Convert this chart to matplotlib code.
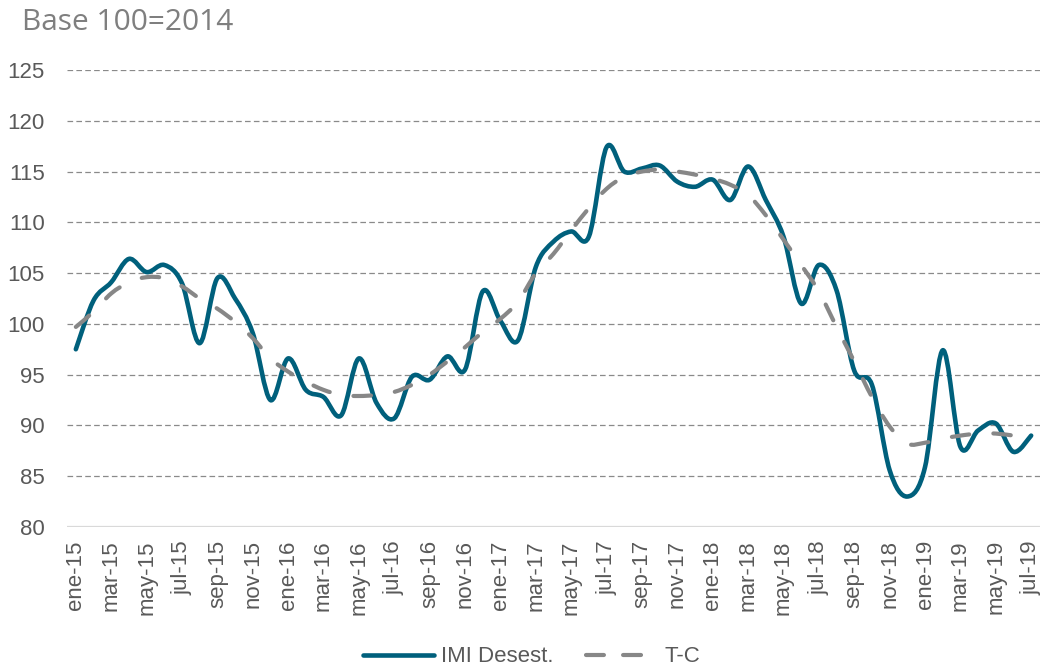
import matplotlib
matplotlib.use("Agg")
import matplotlib.pyplot as plt
from matplotlib.path import Path
from matplotlib.patches import PathPatch
from matplotlib.lines import Line2D
import numpy as np

# ---- data ----
years = ["15", "16", "17", "18", "19"]
month_abbr = ["ene", "feb", "mar", "abr", "may", "jun", "jul", "ago", "sep", "oct", "nov", "dic"]
months = [f"{m}-{y}" for y in years for m in month_abbr][:55]  # ene-15 .. jul-19

imi_desest = [
    97.5, 102.3, 104.1, 106.4, 105.1, 105.8, 104.0, 98.1, 104.5, 102.5, 99.1, 92.5,   # 2015
    96.6, 93.5, 92.8, 91.0, 96.6, 92.2, 90.7, 94.8, 94.5, 96.8, 95.5, 103.2,          # 2016
    100.3, 98.4, 105.6, 108.1, 109.1, 108.6, 117.4, 115.0, 115.3, 115.6, 114.0, 113.5,  # 2017
    114.2, 112.2, 115.5, 112.2, 108.6, 102.0, 105.8, 103.3, 95.4, 94.0, 85.6, 83.0,   # 2018
    85.9, 97.4, 87.9, 89.5, 90.2, 87.4, 89.0,                                         # 2019
]
tc = [
    99.7, 101.2, 103.0, 104.1, 104.6, 104.5, 103.7, 102.5, 101.5, 100.2, 98.6, 96.6,
    95.3, 94.3, 93.5, 93.0, 92.9, 93.0, 93.3, 94.0, 95.0, 96.3, 97.7, 99.2,
    100.5, 102.2, 105.0, 106.9, 109.2, 111.4, 113.3, 114.5, 115.0, 115.2, 115.0, 114.7,
    114.3, 113.7, 112.7, 110.7, 108.3, 105.8, 103.2, 99.7, 96.3, 92.8, 89.9, 88.2,
    88.3, 88.7, 89.0, 89.2, 89.2, 89.0,
]
y_ticks = [80, 85, 90, 95, 100, 105, 110, 115, 120, 125]
tick_every = 2

TEAL = "#00607c"
GRAY = "#878787"
TXT = "#595959"


def smooth_path(values):
    """Excel-like smooth line: cubic Bezier through the points (Catmull-Rom)."""
    pts = np.column_stack([np.arange(len(values)), np.asarray(values, float)])
    n = len(pts)
    verts = [pts[0]]
    codes = [Path.MOVETO]
    for i in range(n - 1):
        p0 = pts[i - 1] if i > 0 else pts[i]
        p1 = pts[i]
        p2 = pts[i + 1]
        p3 = pts[i + 2] if i + 2 < n else pts[i + 1]
        c1 = p1 + (p2 - p0) / 6.0
        c2 = p2 - (p3 - p1) / 6.0
        verts += [c1, c2, p2]
        codes += [Path.CURVE4] * 3
    return Path(verts, codes)


fig = plt.figure(figsize=(10.48, 6.71), dpi=100)
ax = fig.add_axes([67 / 1048, 1 - 527 / 671, (1040 - 67) / 1048, (527 - 70) / 671])

ax.set_xlim(-0.5, len(months) - 0.5)
ax.set_ylim(80, 125)

# grid
for v in y_ticks[1:]:
    ax.axhline(v, color="#8a8a8a", lw=0.9, linestyle=(0, (4.5, 2.6)), zorder=1)
ax.axhline(80, color="#d9d9d9", lw=1.6, zorder=1)

# series
p_imi = PathPatch(smooth_path(imi_desest), facecolor="none", edgecolor=TEAL,
                  lw=3.3, capstyle="round", joinstyle="round", zorder=3)
ax.add_patch(p_imi)
p_tc = PathPatch(smooth_path(tc), facecolor="none", edgecolor=GRAY,
                 lw=3.0, linestyle=(0, (4.2, 5.8)), capstyle="round",
                 joinstyle="round", zorder=4)
ax.add_patch(p_tc)

for s in ax.spines.values():
    s.set_visible(False)

ax.set_yticks(y_ticks)
ax.set_yticklabels([str(v) for v in y_ticks])
idx = list(range(0, len(months), tick_every))
ax.set_xticks(idx)
ax.set_xticklabels([months[i] for i in idx], rotation=90)
ax.tick_params(axis="y", length=0, pad=16, labelsize=16, labelcolor=TXT)
ax.tick_params(axis="x", length=0, pad=9.5, labelsize=16, labelcolor=TXT)
for lab in ax.get_xticklabels() + ax.get_yticklabels():
    lab.set_fontfamily("Liberation Sans")

fig.text(22 / 1048, 1 - 23 / 671, "Base 100=2014", fontsize=21.5, color="#7f7f7f",
         family="Open Sans", va="center", ha="left")

handles = [
    Line2D([], [], color=TEAL, lw=3.3, solid_capstyle="round"),
    Line2D([], [], color=GRAY, lw=3.0, linestyle=(0, (4.3, 4.6)), dash_capstyle="round"),
]
fig.legend(handles, ["IMI Desest.", "T-C"], loc="center", bbox_to_anchor=(0.507, 1 - 657 / 671),
           ncol=2, frameon=False, handlelength=3.2, columnspacing=1.5, handletextpad=0.3,
           prop={"family": "Liberation Sans", "size": 16}, labelcolor=TXT)

fig.savefig("out.png", dpi=100)
